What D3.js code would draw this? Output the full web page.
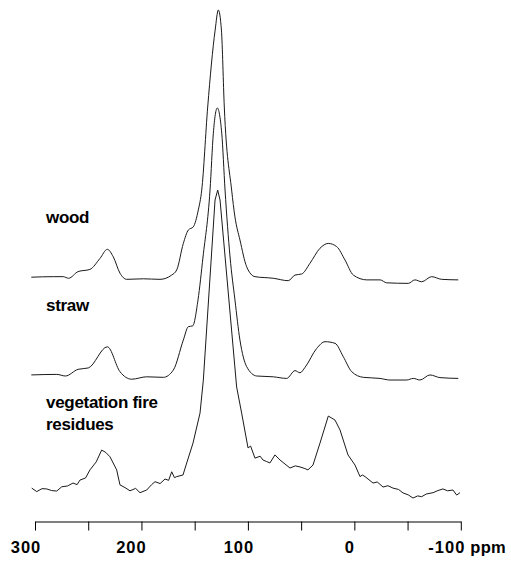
<!DOCTYPE html>
<html>
<head>
<meta charset="utf-8">
<script src="https://cdn.jsdelivr.net/npm/d3@7"></script>
<style>
  body { margin: 0; background: #fff; }
  text { font-family: "Liberation Sans", Arial, sans-serif; font-weight: bold; fill: #000; }
</style>
</head>
<body>
<svg id="nmr"></svg>
<script>
// spectra: [chemical shift (ppm), relative intensity (wood main peak = 100)]
var wood = [[303,0.3],[282,0.5],[273,0.5],[268,-0.1],[259,2.4],[248,3.2],[238.5,7.3],[231.6,10.7],[226,7.9],
  [219.7,1.8],[213.4,-0.5],[197.8,-0.3],[182.1,-0.5],[171.1,1.1],[166.4,3.0],[160.2,12.9],[155.5,17.9],
  [150.8,19.1],[146.1,25.4],[142.9,32.8],[137.3,63.8],[130.3,92.5],[127.3,100],[124.4,92.5],[121.7,63.8],
  [114.8,32.8],[111.7,22.8],[107,14.2],[100.7,4.2],[92.9,0.5],[75.7,-0.1],[61.6,-1.0],[55.3,1.1],[49,1.5],
  [41.2,5.5],[31.8,11.1],[24,12.9],[16.1,11.7],[8.3,6.7],[0.5,1.1],[-12.1,-0.7],[-24.6,-0.7],[-30.9,-1.8],
  [-51.1,-2.0],[-57.4,-0.7],[-63.7,-1.4],[-73.1,0.5],[-82.5,-0.5],[-98.1,-0.7]]

var straw = [[303,0.4],[279,0.6],[271,0],[259,2.5],[249.5,3.0],[231.6,10.9],[219.7,1.6],[208.7,-1.2],
  [194.6,-0.3],[179,-0.5],[169.6,2.2],[160.2,13.4],[155.5,18.4],[151.4,18.7],[146.4,28.4],[141.7,44.4],
  [135.1,69.4],[132,90.6],[128.3,100],[124.1,90.6],[121,69.4],[116.3,44.4],[111.7,28.4],[107,13.4],
  [100.7,3.5],[91.3,0],[75.7,-0.3],[63.1,-0.9],[55.3,2.0],[50.6,1.2],[45.9,3.2],[34.9,10.3],[27.1,12.8],
  [17.7,12.2],[9.9,7.2],[2,1.6],[-8.9,-0.5],[-24.6,-0.9],[-33.9,-1.5],[-49.6,-1.5],[-55.8,-0.9],
  [-62.1,-1.5],[-71.5,0.4],[-80.9,-0.6],[-98.1,-0.9]]

var vegetation = [[302.6,0.7],[297.9,-0.6],[293,0.5],[288.5,0.4],[284,-0.2],[279.1,-0.4],[274.4,1.2],
  [269,1.5],[263.8,2.6],[260,2.0],[257.3,3.7],[252,4.5],[247.9,7.5],[242,10.5],[236.9,14.9],[233,14.0],
  [229.1,12.4],[222.8,7.5],[219.7,1.9],[215,0.9],[210.3,-0.3],[205,0.6],[200.9,-1.0],[194.6,0],
  [190,2.0],[186.8,3.1],[182,2.4],[177.4,4.1],[174,3.6],[171.1,6.8],[168.5,4.6],[166.4,5.0],[160.5,5.6],
  [157,10.1],[151.1,17.5],[144.5,28.7],[141.4,41.0],[130.4,108.2],[127.9,111.9],[125.7,108.2],
  [110.1,38.4],[105.4,28.7],[99.4,15.7],[97,16.4],[92.9,11.9],[88,12.6],[85.4,11.2],[81.9,10.6],
  [78.8,10.1],[74.1,13.1],[69.4,11.2],[60,8.2],[55,9.0],[50.6,8.6],[46,8.0],[43.1,7.5],[38.4,9.3],
  [31.8,17.5],[24,27.6],[17.7,26.1],[13,22.4],[5.5,13.1],[-1.1,9.3],[-5.8,5.0],[-8,5.6],[-10.5,5.0],
  [-18,2.6],[-22,3.0],[-27.4,1.1],[-32,1.6],[-36.8,0.7],[-42,0.2],[-46.2,-1.1],[-51,-1.8],[-55.6,-3.0],
  [-60,-2.2],[-63.7,-2.5],[-68,-1.5],[-74.4,-1.0],[-79,-0.2],[-83.7,0.4],[-88,-0.3],[-93.1,0],
  [-96.6,-1.9],[-99.7,-1.0]]

var spectrumNames = ["wood", "straw", "vegetation fire|residues"]
var tickValues = [300, 250, 200, 150, 100, 50, 0, -50, -100]
var tickLabels = [300, 200, 100, 0, -100]

var width = 511
var height = 569
var svg = d3.select("#nmr")
  .attr("width", width)
  .attr("height", height)

var x = d3.scaleLinear().domain([300, -100]).range([34.5, 460.3])

// baselines of the stacked traces
var baselines = [278, 376, 490]
var peakPx = 268
var labelY = [[223], [311], [408, 430]]

var spectra = [wood, straw, vegetation]

spectra.forEach(function(data, i) {
  var y = d3.scaleLinear().domain([0, 100]).range([baselines[i], baselines[i] - peakPx])
  var line = d3.line()
    .x(d => x(d[0]))
    .y(d => y(d[1]))
    .curve(i < 2 ? d3.curveMonotoneX : d3.curveLinear)

  svg.append("path")
    .datum(data)
    .attr("d", line)
    .attr("fill", "none")
    .attr("stroke", "#1a1a1a")
    .attr("stroke-width", 1)
    .attr("stroke-linejoin", "round")

  var lines = spectrumNames[i].split("|")
  lines.forEach(function(t, j) {
    svg.append("text")
      .attr("x", 46)
      .attr("y", labelY[i][j])
      .style("font-size", "17px")
      .style("letter-spacing", "-0.3px")
      .text(t)
  })
})

// x axis
var axis = d3.axisBottom(x)
  .tickValues(tickValues)
  .tickFormat("")
  .tickSize(9)
  .tickSizeOuter(0)

var gx = svg.append("g")
  .attr("transform", "translate(0.5,521.5)")
  .call(axis)
gx.select(".domain").attr("stroke", "#000")
gx.selectAll(".tick line").attr("stroke", "#000")

var labelDx = [-8.5, -9.5, -8.5, -4, -13.5]
svg.append("g").selectAll("text")
  .data(tickLabels)
  .enter()
  .append("text")
  .attr("x", (d, i) => x(d) + labelDx[i])
  .attr("y", 553)
  .attr("text-anchor", "middle")
  .style("font-size", "16.5px")
  .style("letter-spacing", "1px")
  .text(d => d)

svg.append("text")
  .attr("x", x(-100) + 10)
  .attr("y", 553)
  .style("font-size", "16.5px")
  .style("letter-spacing", "0.3px")
  .text("ppm")
</script>
</body>
</html>
